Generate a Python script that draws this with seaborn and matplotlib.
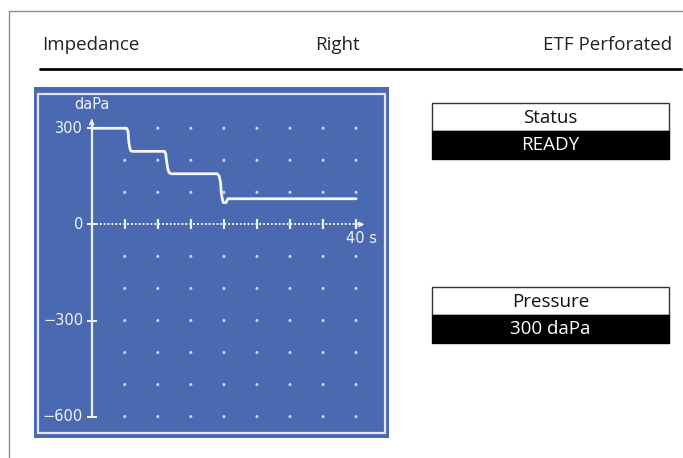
import numpy as np
import pandas as pd
import matplotlib
matplotlib.use("Agg")
import matplotlib.pyplot as plt
import seaborn as sns
from matplotlib.patches import Rectangle

sns.set_theme(style="white")
plt.rcParams['font.family'] = ['Open Sans', 'DejaVu Sans']

W, H = 683, 458
BLUE = '#4a69b1'
LIGHT = '#eef1f8'
DOT = '#c9d3ea'

# data
time_s = [0, 5.3, 5.5, 5.6, 5.75, 5.9, 6.2, 11.0, 11.2, 11.35, 11.5, 11.7, 12.0,
          19.0, 19.3, 19.5, 19.6, 19.75, 19.9, 20.3, 20.6, 40.0]
pressure_dapa = [300, 300, 290, 260, 240, 230, 228, 228, 220, 195, 175, 162, 158,
                 158, 150, 130, 100, 80, 68, 68, 80, 80]

x_ticks = [5, 10, 15, 20, 25, 30, 35, 40]
y_grid = [300, 200, 100, -100, -200, -300, -400, -500, -600]
y_labels = [300, 0, -300, -600]

header = ['Impedance', 'Right', 'ETF Perforated']
status = ('Status', 'READY')
pressure = ('Pressure', '300 daPa')

fig = plt.figure(figsize=(W / 100, H / 100), dpi=100)


def fx(px):
    return px / W


def fy(py):
    return 1 - py / H


# outer frame (top and left only)
fig.add_artist(plt.Line2D([fx(9), fx(683)], [fy(11), fy(11)], color='#8a8a8a', lw=1))
fig.add_artist(plt.Line2D([fx(9), fx(9)], [fy(11), fy(458)], color='#8a8a8a', lw=1))

# header row
fig.text(fx(42), fy(45), header[0], ha='left', va='center', fontsize=13.5, color='#222')
fig.text(fx(337), fy(45), header[1], ha='center', va='center', fontsize=13.5, color='#222')
fig.text(fx(672), fy(45), header[2], ha='right', va='center', fontsize=13.5, color='#222')
fig.add_artist(plt.Line2D([fx(40), fx(681)], [fy(69), fy(69)], color='black', lw=2))

# plot panel
x0, x1, y0, y1 = 34, 389, 87, 438
ax = fig.add_axes([fx(x0), fy(y1), fx(x1 - x0), (y1 - y0) / H])
ax.set_facecolor(BLUE)
for s in ax.spines.values():
    s.set_visible(False)
ax.set_xticks([])
ax.set_yticks([])
ax.set_xlim(-8.73, 44.98)
ax.set_ylim(-666.7, 428.8)

# inner white border
ax.add_patch(Rectangle((4 / (x1 - x0), 5.5 / (y1 - y0)),
                       1 - 8 / (x1 - x0), 1 - 12 / (y1 - y0),
                       transform=ax.transAxes, fill=False, ec='#dfe5f3', lw=1.6))

# grid dots
gx, gy = np.meshgrid(x_ticks, y_grid)
grid = pd.DataFrame({'t': gx.ravel(), 'p': gy.ravel()})
sns.scatterplot(data=grid, x='t', y='p', ax=ax, s=5, color=DOT, edgecolor='none', legend=False)

# y axis with arrow
ax.plot([0, 0], [-600, 320], color=LIGHT, lw=1.6)
ax.annotate('', xy=(0, 338), xytext=(0, 315),
            arrowprops=dict(arrowstyle='->', color=LIGHT, lw=1.2, mutation_scale=7))
ax.plot([0] * len(y_labels), y_labels, ls='none', marker='_', ms=7, mew=1.5, color=LIGHT)
for v in y_labels:
    ax.text(-1.3, v, str(v).replace('-', '\u2212'), ha='right', va='center',
            fontsize=10.5, color=LIGHT, family='DejaVu Sans')
ax.text(0.0, 350, 'daPa', ha='center', va='bottom', fontsize=10.5, color=LIGHT,
        family='DejaVu Sans')

# x axis: dotted line, ticks, arrow
ax.plot([0, 40.6], [0, 0], color=LIGHT, lw=1.4, ls=(0, (1, 1)))
ax.plot(x_ticks, [0] * len(x_ticks), ls='none', marker='|', ms=7, mew=1.6, color=LIGHT)
ax.annotate('', xy=(41.7, 0), xytext=(39.8, 0),
            arrowprops=dict(arrowstyle='->', color=LIGHT, lw=1.2, mutation_scale=7))
ax.text(40.8, -22, '40 s', ha='center', va='top', fontsize=10.5, color=LIGHT,
        family='DejaVu Sans')

# trace
trace = pd.DataFrame({'t': time_s, 'p': pressure_dapa})
sns.lineplot(data=trace, x='t', y='p', ax=ax, color='#f4f6fb', lw=2, sort=False,
             estimator=None)
ax.set_xlabel('')
ax.set_ylabel('')


# info boxes
def info_box(top, title, value):
    left, right = 432, 669
    bx = fig.add_axes([fx(left), fy(top + 56), fx(right - left), 56 / H])
    bx.set_xlim(0, 1)
    bx.set_ylim(0, 1)
    bx.set_axis_off()
    bx.add_patch(Rectangle((0, 0.5), 1, 0.5, fc='white', ec='#333', lw=1,
                           transform=bx.transAxes, clip_on=False))
    bx.add_patch(Rectangle((0, 0), 1, 0.5, fc='black', ec='black', lw=1,
                           transform=bx.transAxes, clip_on=False))
    bx.text(0.5, 0.74, title, ha='center', va='center', fontsize=13.5, color='#111')
    bx.text(0.5, 0.25, value, ha='center', va='center', fontsize=13.5, color='white')


info_box(103, *status)
info_box(287, *pressure)

fig.savefig('out.png', dpi=100)
